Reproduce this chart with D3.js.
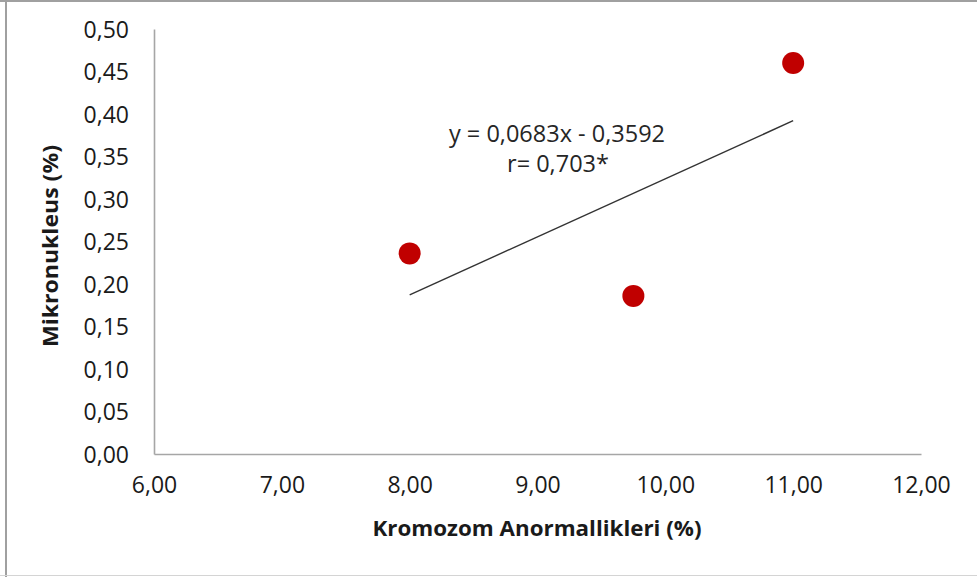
<!DOCTYPE html>
<html>
<head>
<meta charset="utf-8">
<script src="https://cdn.jsdelivr.net/npm/d3@7"></script>
<style>
  html, body { margin: 0; padding: 0; background: #fff; }
  svg { display: block; }
</style>
</head>
<body>
<svg id="chart" width="977" height="577"></svg>
<script>
// ---- data ----
const xValues = [8.00, 9.75, 11.00];
const yValues = [0.236, 0.186, 0.460];
const xTicks = [6, 7, 8, 9, 10, 11, 12];
const yTicks = [0, 0.05, 0.10, 0.15, 0.20, 0.25, 0.30, 0.35, 0.40, 0.45, 0.50];
const trendSlope = 0.0683;
const trendIntercept = -0.3592;
const trendRange = [8.00, 11.00];
const equationLines = ["y = 0,0683x - 0,3592", "r= 0,703*"];
const xTitle = "Kromozom Anormallikleri (%)";
const yTitle = "Mikronukleus (%)";

const svg = d3.select("#chart");
const font = "'Open Sans', 'Noto Sans', sans-serif";
const textColor = "#1a1a1a";
const axisColor = "#a6a6a6";

const loc = d3.formatLocale({decimal: ",", thousands: ".", grouping: [3], currency: ["", ""]});
const fmt = loc.format(".2f");

// outer frame
svg.append("line").attr("x1", 6).attr("x2", 6).attr("y1", 0).attr("y2", 577)
  .attr("stroke", "#a0a0a0").attr("stroke-width", 2);
svg.append("line").attr("x1", 0).attr("x2", 977).attr("y1", 1).attr("y2", 1)
  .attr("stroke", "#a0a0a0").attr("stroke-width", 2);
svg.append("line").attr("x1", 0).attr("x2", 977).attr("y1", 575.5).attr("y2", 575.5)
  .attr("stroke", "#d4d4d4").attr("stroke-width", 1);

const x = d3.scaleLinear().domain([6, 12]).range([154, 921]);
const y = d3.scaleLinear().domain([0, 0.5]).range([454, 29]);

// axes
const xAxis = svg.append("g").attr("transform", `translate(0,${y(0)})`)
  .call(d3.axisBottom(x).tickValues(xTicks).tickFormat(fmt).tickSize(0).tickPadding(22));
const yAxis = svg.append("g").attr("transform", `translate(${x(6)},0)`)
  .call(d3.axisLeft(y).tickValues(yTicks).tickFormat(fmt).tickSize(0).tickPadding(25));

[xAxis, yAxis].forEach(g => {
  g.select(".domain").attr("stroke", axisColor).attr("stroke-width", 1.6);
  g.selectAll("text").attr("font-family", font).attr("font-size", 23).attr("fill", textColor);
});
yAxis.selectAll("text").attr("dy", "0.36em");
xAxis.selectAll("text").attr("dy", "0.75em");

// trend line
svg.append("line")
  .attr("x1", x(trendRange[0])).attr("y1", y(trendSlope * trendRange[0] + trendIntercept))
  .attr("x2", x(trendRange[1])).attr("y2", y(trendSlope * trendRange[1] + trendIntercept))
  .attr("stroke", "#333").attr("stroke-width", 1.4);

// points
svg.selectAll("circle.pt").data(xValues.map((v, i) => [v, yValues[i]]))
  .enter().append("circle").attr("class", "pt")
  .attr("cx", d => x(d[0])).attr("cy", d => y(d[1])).attr("r", 11)
  .attr("fill", "#c00000");

// equation label
const eq = svg.append("text").attr("font-family", font).attr("font-size", 23.5)
  .attr("fill", "#262626").attr("text-anchor", "middle");
eq.append("tspan").attr("x", 557).attr("y", 142).text(equationLines[0]);
eq.append("tspan").attr("x", 558).attr("y", 172).text(equationLines[1]);

// axis titles
svg.append("text").attr("x", 537).attr("y", 536)
  .attr("text-anchor", "middle").attr("font-family", font).attr("font-weight", "bold")
  .attr("font-size", 21).attr("fill", textColor)
  .attr("textLength", 329).attr("lengthAdjust", "spacingAndGlyphs")
  .text(xTitle);

svg.append("text").attr("transform", "translate(58,246) rotate(-90)")
  .attr("text-anchor", "middle").attr("font-family", font).attr("font-weight", "bold")
  .attr("font-size", 21).attr("fill", textColor)
  .attr("textLength", 202).attr("lengthAdjust", "spacingAndGlyphs")
  .text(yTitle);
</script>
</body>
</html>
